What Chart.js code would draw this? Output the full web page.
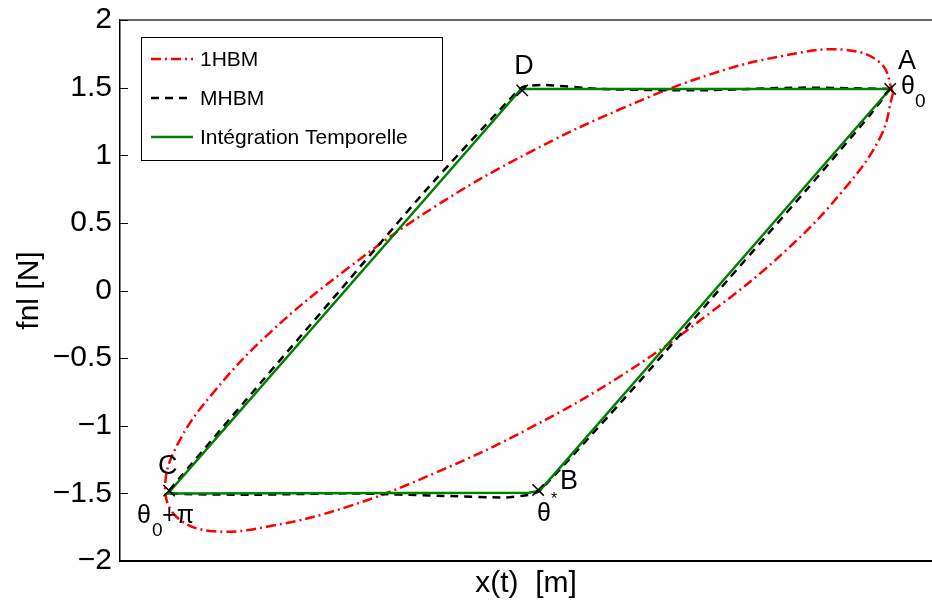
<!DOCTYPE html>
<html>
<head>
<meta charset="utf-8">
<script src="https://cdn.jsdelivr.net/npm/chart.js@4.4.0/dist/chart.umd.min.js"></script>
<style>
	html, body { margin: 0; padding: 0; background: #fff; }
	#wrap { width: 932px; height: 606px; }
</style>
</head>
<body>
<div id="wrap"><canvas id="cycle"></canvas></div>
<script>
// 1HBM (approximation à un harmonique)
const hbm1X = [1.008, 0.974, 0.873, 0.713, 0.504, 0.261, 0, -0.261, -0.504, -0.713, -0.873, -0.974,
	-1.008, -0.974, -0.873, -0.713, -0.504, -0.261, 0, 0.261, 0.504, 0.713, 0.873, 0.974, 1.008];
const hbm1Y = [1.46, 1.68, 1.78, 1.74, 1.60, 1.35, 1.02, 0.62, 0.16, -0.30, -0.75, -1.14,
	-1.46, -1.68, -1.78, -1.74, -1.60, -1.35, -1.02, -0.62, -0.16, 0.30, 0.75, 1.14, 1.46];

// MHBM
const mhbmX = [1.0, 0.751, 0.474, 0.197, 0.044, -0.011, -0.03, -0.283, -0.524, -0.765, -0.994, -1.0,
	-0.773, -0.496, -0.219, -0.066, 0.003, 0.03, 0.28, 0.525, 0.77, 0.945, 1.0];
const mhbmY = [1.49, 1.50, 1.48, 1.49, 1.52, 1.51, 1.48, 0.75, 0, -0.75, -1.47, -1.5,
	-1.51, -1.50, -1.52, -1.53, -1.51, -1.48, -0.75, 0, 0.75, 1.3, 1.49];

// Intégration temporelle
const integX = [1.0, -0.022, -1.0, 0.0, 0.03, 1.0];
const integY = [1.49, 1.49, -1.5, -1.495, -1.48, 1.49];

// points remarquables
const markNames = ['A', 'B', 'C', 'D'];
const markX = [1.0, 0.025, -0.997, -0.019];
const markY = [1.49, -1.475, -1.48, 1.48];

const yTicks = [-2, -1.5, -1, -0.5, 0, 0.5, 1, 1.5, 2];

function pts(xs, ys) {
	return xs.map(function(x, i) { return { x: x, y: ys[i] }; });
}

function fmt(v) {
	return String(v).replace('-', '\u2212');
}

const font = "'Liberation Sans', Arial, sans-serif";

const legendItems = [
	{ text: '1HBM', color: '#ff0000', dash: [10, 4, 2, 4] },
	{ text: 'MHBM', color: '#000000', dash: [8, 6] },
	{ text: 'Intégration Temporelle', color: '#008000', dash: [] }
];

const framePlugin = {
	id: 'frame',
	afterDatasetsDraw(chart) {
		const ctx = chart.ctx;
		const area = chart.chartArea;
		const ys = chart.scales.y;
		ctx.save();
		// bord haut
		ctx.strokeStyle = '#333';
		ctx.lineWidth = 1.5;
		ctx.beginPath();
		ctx.moveTo(area.left, area.top);
		ctx.lineTo(area.right, area.top);
		ctx.stroke();
		// graduations vers l'intérieur
		ctx.strokeStyle = '#000';
		ctx.lineWidth = 1;
		yTicks.forEach(function(v) {
			const py = Math.round(ys.getPixelForValue(v)) + 0.5;
			ctx.beginPath();
			ctx.moveTo(area.left, py);
			ctx.lineTo(area.left + 8, py);
			ctx.stroke();
		});

		// légende
		const bx = 141, by = 37, bw = 301, bh = 123;
		ctx.fillStyle = '#fff';
		ctx.fillRect(bx, by, bw, bh);
		ctx.strokeStyle = '#000';
		ctx.lineWidth = 1;
		ctx.strokeRect(bx + 0.5, by + 0.5, bw, bh);
		ctx.font = '21px ' + font;
		ctx.textBaseline = 'middle';
		legendItems.forEach(function(item, i) {
			const cy = 59 + i * 39;
			ctx.strokeStyle = item.color;
			ctx.lineWidth = 2.5;
			ctx.setLineDash(item.dash);
			ctx.beginPath();
			ctx.moveTo(151, cy);
			ctx.lineTo(193, cy);
			ctx.stroke();
			ctx.setLineDash([]);
			ctx.fillStyle = '#000';
			ctx.textAlign = 'left';
			ctx.fillText(item.text, 200, cy + 1);
		});

		// étiquettes des points
		const xs = chart.scales.x;
		const px = function(i) { return xs.getPixelForValue(markX[i]); };
		const py = function(i) { return ys.getPixelForValue(markY[i]); };
		ctx.fillStyle = '#000';
		ctx.textBaseline = 'alphabetic';
		ctx.textAlign = 'left';
		ctx.font = '27px ' + font;
		ctx.fillText(markNames[0], px(0) + 8, py(0) - 20);
		ctx.fillText(markNames[1], px(1) + 22, py(1) - 1);
		ctx.fillText(markNames[2], px(2) - 11, py(2) - 17);
		ctx.fillText(markNames[3], px(3) - 8, py(3) - 16);
		ctx.font = '25px ' + font;
		ctx.fillText('\u03b8', px(0) + 11, py(0) + 5);
		ctx.fillText('\u03b8', px(1) - 1, py(1) + 31);
		ctx.fillText('\u03b8', px(2) - 32, py(2) + 32);
		ctx.fillText('+\u03c0', px(2) - 7, py(2) + 32);
		ctx.font = '19px ' + font;
		ctx.fillText('0', px(0) + 25, py(0) + 18);
		ctx.fillText('0', px(2) - 17, py(2) + 45);
		ctx.font = '16px ' + font;
		ctx.fillText('*', px(1) + 13, py(1) + 14);
		ctx.restore();
	}
};

const chart = new Chart(document.getElementById('cycle'), {
	type: 'scatter',
	data: {
		datasets: [{
			label: '1HBM',
			data: pts(hbm1X, hbm1Y),
			showLine: true,
			borderColor: '#ff0000',
			borderWidth: 2.5,
			borderDash: [10, 4, 2, 4],
			tension: 0.4,
			pointRadius: 0,
			order: 3
		}, {
			label: 'MHBM',
			data: pts(mhbmX, mhbmY),
			showLine: true,
			borderColor: '#000000',
			borderWidth: 2.5,
			borderDash: [8, 6],
			tension: 0.2,
			pointRadius: 0,
			order: 2
		}, {
			label: 'Intégration Temporelle',
			data: pts(integX, integY),
			showLine: true,
			borderColor: '#008000',
			borderWidth: 2.5,
			tension: 0,
			pointRadius: 0,
			order: 1
		}, {
			label: 'points',
			data: pts(markX, markY),
			showLine: false,
			pointStyle: 'crossRot',
			pointRadius: 8,
			pointBorderWidth: 1.5,
			borderColor: '#000',
			backgroundColor: '#000',
			order: 0
		}]
	},
	options: {
		responsive: true,
		maintainAspectRatio: false,
		animation: false,
		layout: { autoPadding: false, padding: { top: 13, right: 0, left: 0, bottom: 0 } },
		plugins: {
			legend: { display: false },
			tooltip: { enabled: false }
		},
		scales: {
			x: {
				type: 'linear',
				min: -1.133,
				max: 1.116,
				border: { display: true, color: '#000', width: 2 },
				grid: { display: false, drawTicks: false },
				ticks: { display: false },
				title: {
					display: true,
					text: 'x(t)  [m]',
					color: '#000',
					font: { family: font, size: 30 },
					padding: { top: 4 }
				},
				afterFit: function(scale) { scale.height = 45; }
			},
			y: {
				type: 'linear',
				min: -2,
				max: 2,
				border: { display: true, color: '#000', width: 1.5 },
				grid: { display: false, drawTicks: false },
				ticks: {
					stepSize: 0.5,
					padding: 8,
					color: '#000',
					font: { family: font, size: 30, lineHeight: 0.8 },
					callback: function(value) { return fmt(value); }
				},
				title: {
					display: true,
					text: 'fnl [N]',
					color: '#000',
					font: { family: font, size: 30 },
					padding: { top: 12, bottom: 0 }
				},
				afterFit: function(scale) { scale.width = 120; }
			}
		}
	},
	plugins: [framePlugin]
});
</script>
</body>
</html>
